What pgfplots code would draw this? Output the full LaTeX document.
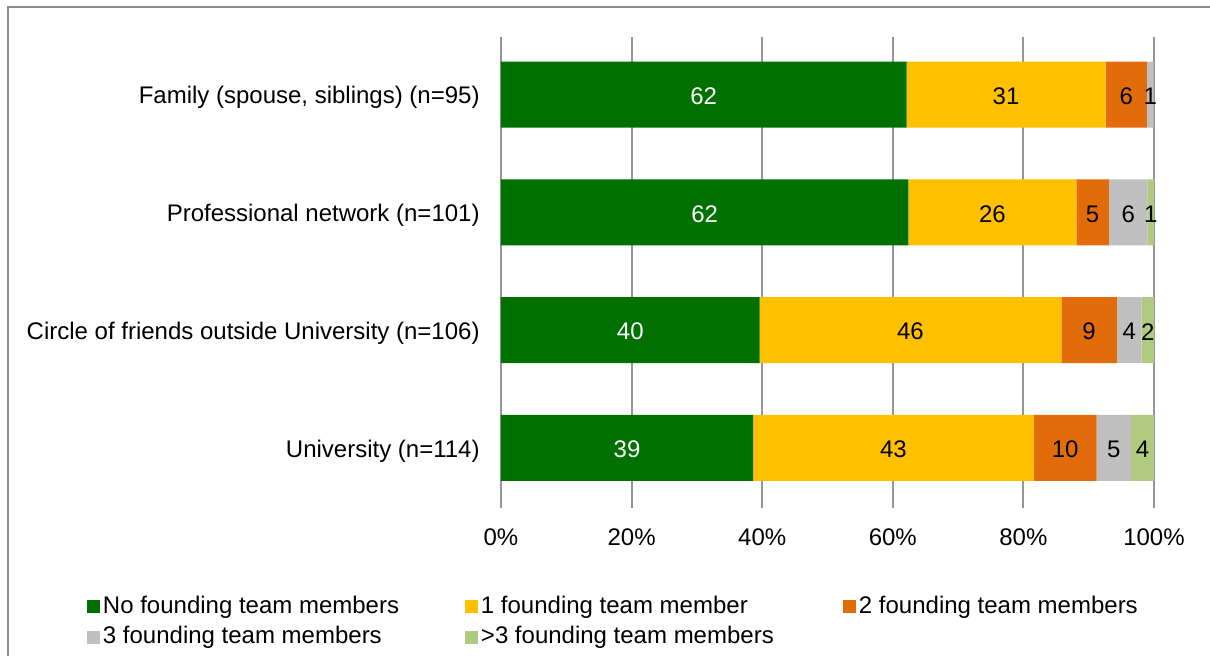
\documentclass[border=0pt]{standalone}
\usepackage{fontspec}
\setmainfont{Liberation Sans}
\usepackage{pgfplots}
\pgfplotsset{compat=1.18}
\definecolor{cA}{RGB}{0,112,0}
\definecolor{cB}{RGB}{255,192,0}
\definecolor{cC}{RGB}{227,108,10}
\definecolor{cD}{RGB}{192,192,192}
\definecolor{cE}{RGB}{176,203,128}
\definecolor{gridc}{RGB}{150,150,150}
\definecolor{framec}{RGB}{140,140,140}
\pgfplotsset{sqleg/.style={legend image code/.code={\fill[##1] (0pt,-3.1pt) rectangle (6.3pt,3.1pt);}}}
\begin{document}
\fontsize{12pt}{14pt}\selectfont
\begin{tikzpicture}
\path[use as bounding box] (-250.5pt,-74pt) rectangle (354.5pt,254pt);
\draw[framec, line width=0.8pt] (-246.5pt,-80pt) -- (-246.5pt,250.5pt) -- (360pt,250.5pt);
\begin{axis}[
  at={(0,0)}, anchor=south west,
  scale only axis, width=326.5pt, height=235.5pt,
  xbar stacked, bar width=33pt,
  xmin=0, xmax=100, ymin=-0.51, ymax=3.49,
  xtick={0,20,40,60,80,100},
  xticklabels={0\%,20\%,40\%,60\%,80\%,100\%},
  ytick={0,1,2,3},
  yticklabels={{University (n=114)},{Circle of friends outside University (n=106)},{Professional network (n=101)},{Family (spouse, siblings) (n=95)}},
  axis line style={draw=none},
  tick style={draw=none},
  xmajorgrids,
  major grid style={gridc, line width=1pt},
  xticklabel style={yshift=-6pt},
  yticklabel style={xshift=-6.5pt, yshift=-1.5pt},
  point meta=explicit symbolic,
  nodes near coords,
  every node near coord/.append style={anchor=center, yshift=-0.75pt, font=\fontsize{12pt}{14pt}\selectfont},
  legend columns=3,
  legend cell align=left,
  legend style={at={(-0.634,-0.184)}, anchor=north west, draw=none, inner sep=0pt, fill=none,
    row sep=3.9pt,
    nodes={inner sep=0pt, text height=9pt, text depth=2.5pt},
    /tikz/every odd column/.append style={column sep=1.5pt},
    /tikz/every even column/.append style={column sep=0pt}},
]
\addplot[fill=cA, draw=none, sqleg, every node near coord/.append style={text=white}]
  coordinates {(38.6,0) [39] (39.6,1) [40] (62.4,2) [62] (62.1,3) [62]};
\addplot[fill=cB, draw=none, sqleg, every node near coord/.append style={text=black}]
  coordinates {(43.0,0) [43] (46.2,1) [46] (25.7,2) [26] (30.5,3) [31]};
\addplot[fill=cC, draw=none, sqleg, every node near coord/.append style={text=black}]
  coordinates {(9.6,0) [10] (8.5,1) [9] (5.0,2) [5] (6.3,3) [6]};
\addplot[fill=cD, draw=none, sqleg, every node near coord/.append style={text=black}]
  coordinates {(5.3,0) [5] (3.8,1) [4] (5.9,2) [6] (1.05,3) [1]};
\addplot[fill=cE, draw=none, sqleg, every node near coord/.append style={text=black}]
  coordinates {(3.5,0) [4] (1.9,1) [2] (1.0,2) [1] (0,3) [{}]};
\legend{\makebox[181.2pt][l]{No founding team members},\makebox[181.2pt][l]{1 founding team member},2 founding team members,\makebox[181.2pt][l]{3 founding team members},\makebox[181.2pt][l]{>3 founding team members}}
\end{axis}
\end{tikzpicture}
\end{document}
